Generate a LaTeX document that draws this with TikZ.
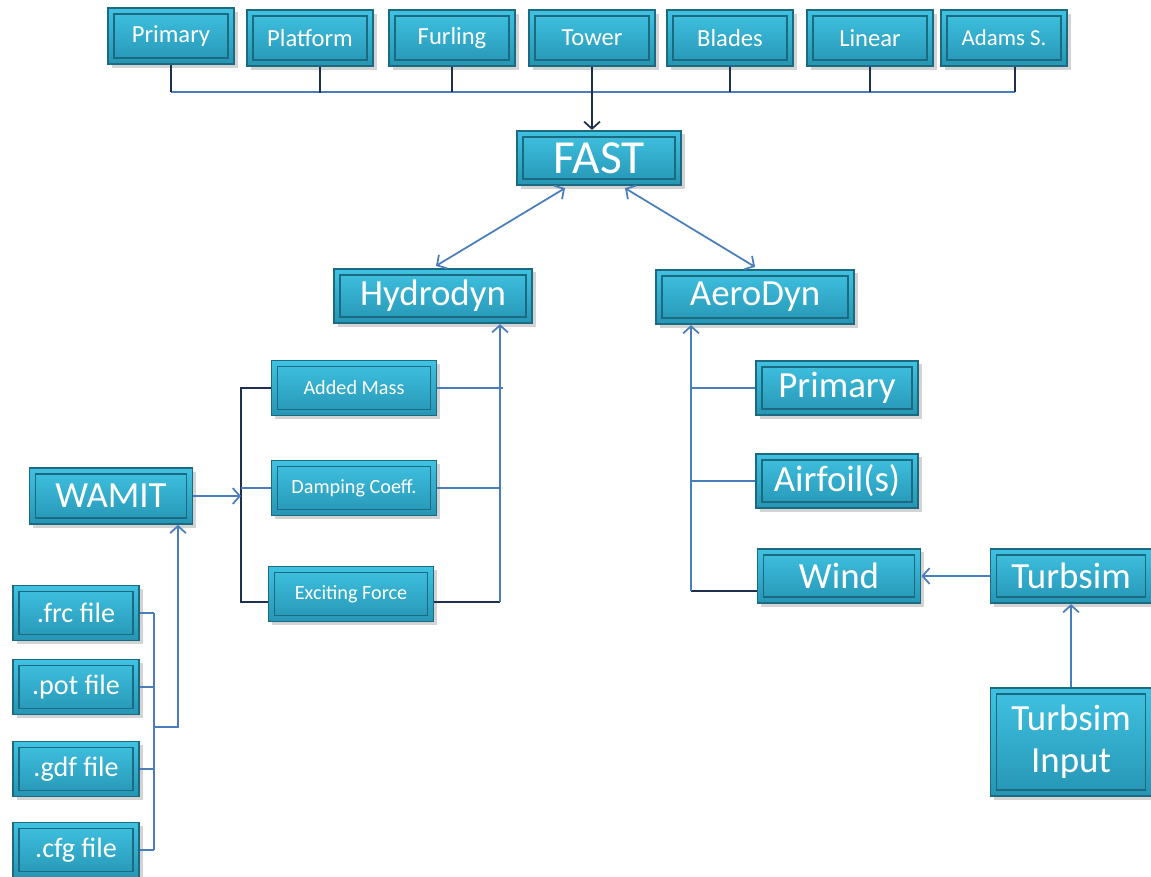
\documentclass[tikz,border=0pt]{standalone}
\usepackage{fontspec}
\setmainfont{Carlito}
\usepackage{xcolor}
\usepackage{tikz}
\usetikzlibrary{positioning, shadows, calc, arrows.meta}

\definecolor{boxtop}{HTML}{40C2E2}
\definecolor{boxbot}{HTML}{2695B4}
\definecolor{boxedge}{HTML}{1C6A80}
\definecolor{linkblue}{HTML}{4A7EBB}
\definecolor{navy}{HTML}{1F2F4F}

\tikzset{
  modbox/.style={draw=boxedge, line width=1pt, top color=boxtop, bottom color=boxbot,
    text=white, align=center, inner sep=0pt,
    drop shadow={shadow xshift=2pt, shadow yshift=-2pt, opacity=.35},
    path picture={\draw[boxedge, line width=0.9pt]
      ([shift={(3.5pt,-3.5pt)}]path picture bounding box.north west) rectangle
      ([shift={(-3.5pt,3.5pt)}]path picture bounding box.south east);}},
  topbox/.style={modbox, minimum width=2.52cm, minimum height=1.12cm, font=\fontsize{14}{16}\selectfont},
  mainbox/.style={modbox, minimum height=1.09cm, font=\fontsize{21}{24}\selectfont},
  coefbox/.style={modbox, minimum width=3.3cm, minimum height=1.1cm, font=\fontsize{11.5}{13}\selectfont},
  filebox/.style={modbox, minimum width=2.52cm, minimum height=1.1cm, font=\fontsize{16}{18}\selectfont},
  link/.style={draw=linkblue, line width=1pt},
  feed/.style={draw=navy, line width=1pt}
}

\begin{document}
\begin{tikzpicture}[x=0.02cm, y=-0.02cm, >={Straight Barb[length=4pt, width=9pt]}]
    \useasboundingbox (0,0) rectangle (1151,876);

    % Modulos de entrada de FAST
    \node[topbox] (prim) at (171,36) {Primary};
    \node[topbox] (plat) at (310,38) {Platform};
    \node[topbox] (furl) at (452,38) {Furling};
    \node[topbox] (towr) at (592,38) {Tower};
    \node[topbox] (blad) at (730,38) {Blades};
    \node[topbox] (line) at (870,38) {Linear};
    \node[topbox, font=\fontsize{13}{15}\selectfont] (adam) at (1004,38) {Adams S.};

    % Nucleo
    \node[mainbox, minimum width=3.28cm, font=\fontsize{27}{30}\selectfont] (fast) at (599,158) {FAST};
    \node[mainbox, minimum width=3.96cm] (hydr) at (433,296) {Hydrodyn};
    \node[mainbox, minimum width=3.96cm] (aero) at (755,297) {AeroDyn};

    % Coeficientes hidrodinamicos
    \node[coefbox] (adde) at (354,388) {Added Mass};
    \node[coefbox] (damp) at (354,488) {Damping Coeff.};
    \node[coefbox] (exci) at (351,594) {Exciting Force};

    % WAMIT y sus archivos
    \node[mainbox, minimum width=3.26cm, minimum height=1.12cm] (wami) at (111,496) {WAMIT};
    \node[filebox] (frc) at (76,613) {.frc file};
    \node[filebox] (pot) at (76,687) {.pot file};
    \node[filebox] (gdf) at (76,769) {.gdf file};
    \node[filebox] (cfg) at (76,850) {.cfg file};

    % Entradas de AeroDyn
    \node[mainbox, minimum width=3.24cm] (apri) at (837,388) {Primary};
    \node[mainbox, minimum width=3.24cm] (airf) at (837,481) {Airfoil(s)};
    \node[mainbox, minimum width=3.26cm] (wind) at (839,576) {Wind};
    \node[mainbox, minimum width=3.22cm] (turb) at (1071,576) {Turbsim};
    \node[mainbox, minimum width=3.22cm, minimum height=2.16cm] (tinp) at (1071,742) {Turbsim\\Input};

    % Bus superior
    \coordinate (busL) at (171,92);
    \coordinate (busR) at (1015,92);
    \draw[link] (busL) -- (busR);
    \foreach \n in {prim,furl,blad,line}
        \draw[feed] (\n.south) -- (\n.south |- busL);
    \draw[feed] ($(plat.south)+(10,0)$) -- ++(0,26);
    \draw[feed] (adam.south -| busR) -- (busR);
    \draw[feed, ->] (towr.south) -- (towr.south |- fast.north);

    % FAST con los modulos
    \draw[link, <->] ($(fast.south)+(-34,2)$) -- ($(hydr.north)+(3,-2)$);
    \draw[link, <->] ($(fast.south)+(26,2)$) -- ($(aero.north)+(0,-2)$);

    % Hydrodyn
    \coordinate (hj) at (500,602);
    \draw[feed] (hj -| exci.east) -- (hj);
    \draw[link, ->] (hj) -- (hj |- hydr.south);
    \draw[link] (adde.east) -- ++(66,0);
    \draw[link] (damp.east) -- (damp.east -| hj);

    % WAMIT hacia los coeficientes
    \coordinate (bt) at (241,388);
    \coordinate (bb) at (241,602);
    \draw[feed] (adde.west) -- (bt) -- (bb) -- (bb -| exci.west);
    \draw[link] (damp.west) -- (damp.west -| bt);
    \draw[link, ->] (wami.east) -- (wami.east -| bt);

    % Archivos hacia WAMIT
    \coordinate (fj) at (154,727);
    \coordinate (fk) at (178,727);
    \foreach \f in {frc,pot,gdf,cfg}
        \draw[link] (\f.east) -- (\f.east -| fj);
    \draw[link] (frc.east -| fj) -- (cfg.east -| fj);
    \draw[link, ->] (fj) -- (fk) -- (fk |- wami.south);

    % AeroDyn
    \coordinate (aj) at (691,591);
    \draw[feed] (aj -| wind.west) -- (aj);
    \draw[link, ->] (aj) -- (aj |- aero.south);
    \draw[link] (apri.west) -- (apri.west -| aj);
    \draw[link] (airf.west) -- (airf.west -| aj);
    \draw[link, ->] (turb.west) -- (wind.east);
    \draw[link, ->] (tinp.north) -- (turb.south);
\end{tikzpicture}
\end{document}
